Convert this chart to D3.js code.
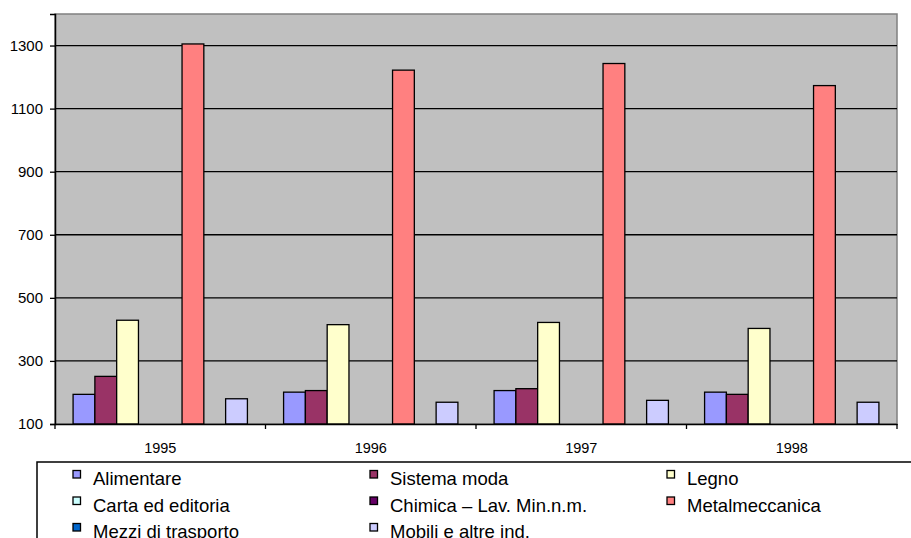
<!DOCTYPE html>
<html>
<head>
<meta charset="utf-8">
<script src="https://cdn.jsdelivr.net/npm/d3@7"></script>
<style>
  html, body { margin: 0; padding: 0; background: #fff; }
  svg { display: block; font-family: "Liberation Sans", Arial, sans-serif; }
</style>
</head>
<body>
<svg id="chart" width="911" height="538"></svg>
<script>
const years = ["1995", "1996", "1997", "1998"];
const seriesNames = ["Alimentare", "Sistema moda", "Legno", "Carta ed editoria",
  "Chimica – Lav. Min.n.m.", "Metalmeccanica", "Mezzi di trasporto", "Mobili e altre ind."];
const seriesColors = ["#9999FF", "#993366", "#FFFFCC", "#CCFFFF", "#660066", "#FF8080", "#0066CC", "#CCCCFF"];
const alimentare = [194, 201, 206, 201];
const sistemaModa = [251, 206, 212, 194];
const legno = [429, 415, 422, 403];
const cartaEditoria = [null, null, null, null];
const chimica = [null, null, null, null];
const metalmeccanica = [1305, 1222, 1243, 1173];
const mezziTrasporto = [null, null, null, null];
const mobili = [180, 169, 175, 169];
const yTicks = [100, 300, 500, 700, 900, 1100, 1300];

const seriesValues = [alimentare, sistemaModa, legno, cartaEditoria, chimica, metalmeccanica, mezziTrasporto, mobili];

const svg = d3.select("#chart");
const L = 55, R = 897, T = 14, B = 424;

const x0 = d3.scaleBand().domain(years).range([L, R]).padding(0);
const x1 = d3.scaleBand().domain(seriesNames).range([0, x0.bandwidth()]).paddingInner(0).paddingOuter(0.83);
const y = d3.scaleLinear().domain([100, 1400]).range([B, T]);

// plot background
svg.append("rect").attr("x", L).attr("y", T).attr("width", R - L).attr("height", B - T)
  .attr("fill", "#C0C0C0").attr("stroke", "#808080").attr("stroke-width", 1.5);

// gridlines
svg.append("g").selectAll("line").data(yTicks.filter(d => d > 100)).join("line")
  .attr("x1", L).attr("x2", R).attr("y1", d => y(d)).attr("y2", d => y(d))
  .attr("stroke", "#000").attr("stroke-width", 1.3);

// bars
const groups = svg.append("g").selectAll("g").data(years).join("g")
  .attr("transform", d => `translate(${x0(d)},0)`);
groups.selectAll("rect")
  .data((yr, i) => seriesNames.map((s, j) => ({ s, j, v: seriesValues[j][i] })).filter(d => d.v != null))
  .join("rect")
  .attr("x", d => x1(d.s))
  .attr("width", x1.bandwidth())
  .attr("y", d => y(d.v))
  .attr("height", d => B - y(d.v))
  .attr("fill", d => seriesColors[d.j])
  .attr("stroke", "#000").attr("stroke-width", 1.3);

// y axis
const yAxis = d3.axisLeft(y).tickValues(yTicks).tickSize(5).tickPadding(7).tickFormat(d3.format("d"));
const gy = svg.append("g").attr("transform", `translate(${L},0)`).call(yAxis);
gy.select(".domain").attr("stroke", "#000").attr("stroke-width", 1.5);
gy.selectAll(".tick line").attr("stroke", "#000").attr("stroke-width", 1.3);
gy.selectAll("text").attr("font-size", "15px").attr("fill", "#000")
  .attr("font-family", "'Liberation Sans', Arial, sans-serif");

// x axis
const xAxis = d3.axisBottom(x0).tickSize(0).tickPadding(19);
const gx = svg.append("g").attr("transform", `translate(0,${B})`).call(xAxis);
gx.select(".domain").attr("stroke", "#000").attr("stroke-width", 1.5);
gx.selectAll("text").attr("font-size", "14.5px").attr("fill", "#000")
  .attr("font-family", "'Liberation Sans', Arial, sans-serif");
// category separators
const seps = [...years.map(d => x0(d)), R];
svg.append("g").selectAll("line").data(seps).join("line")
  .attr("x1", d => d).attr("x2", d => d).attr("y1", B).attr("y2", B + 5)
  .attr("stroke", "#000").attr("stroke-width", 1.3);

// legend
svg.append("rect").attr("x", 37).attr("y", 462).attr("width", 900).attr("height", 100)
  .attr("fill", "#fff").attr("stroke", "#000").attr("stroke-width", 1.5);
const colX = [73, 370, 667];
const rowY = [485, 511.5, 538];
const leg = svg.append("g").selectAll("g").data(seriesNames).join("g")
  .attr("transform", (d, i) => `translate(${colX[i % 3]},${rowY[Math.floor(i / 3)]})`);
leg.append("rect").attr("x", 0).attr("y", -14.5).attr("width", 7.5).attr("height", 7.5)
  .attr("fill", (d, i) => seriesColors[i]).attr("stroke", "#000").attr("stroke-width", 1.3);
leg.append("text").attr("x", 20).attr("y", 0).attr("font-size", "18.5px").attr("fill", "#000")
  .text(d => d);
</script>
</body>
</html>
